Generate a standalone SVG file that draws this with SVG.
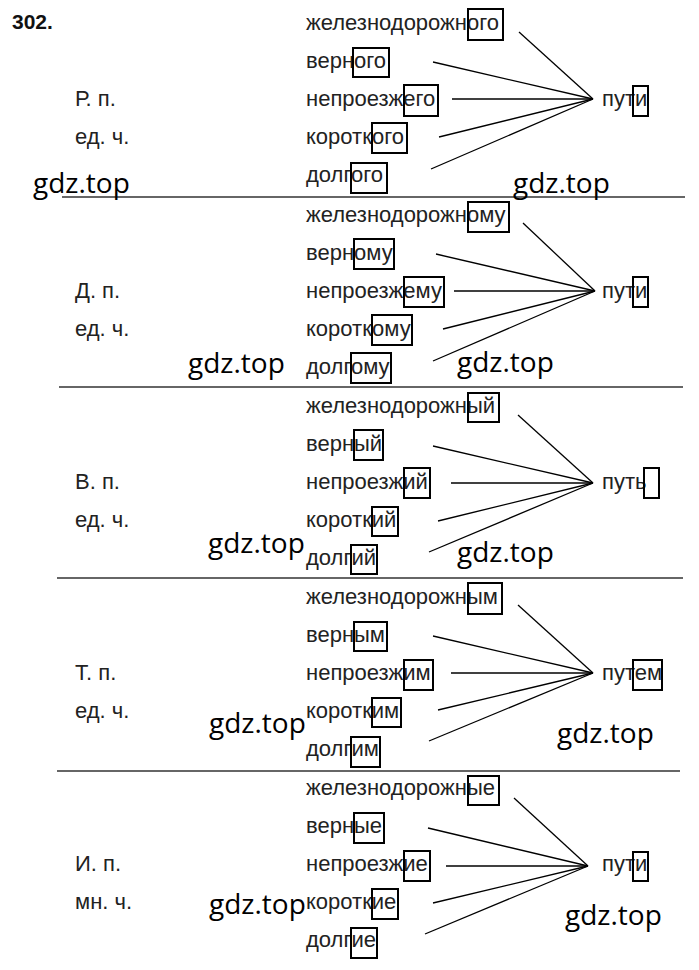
<svg xmlns="http://www.w3.org/2000/svg" width="699" height="970" viewBox="0 0 699 970">
<style>
  .t { font-family: "Liberation Sans", Arial, sans-serif; font-size: 22px; fill: #222; }
  .num { font-family: "Liberation Sans", Arial, sans-serif; font-size: 21px; font-weight: bold; fill: #111; }
  .wm { font-family: "Open Sans", "DejaVu Sans", sans-serif; font-size: 28px; font-weight: 500; fill: #000; }
  .box { fill: none; stroke: #000; stroke-width: 2; }
  .sep { stroke: #333; stroke-width: 1.5; }
  .con { stroke: #000; stroke-width: 1.3; fill: none; }
</style>
<rect width="699" height="970" fill="#fff"/>
<text class="num" x="12" y="29">302.</text>

<g id="separators">
  <line class="sep" x1="62" y1="197" x2="685" y2="197"/>
  <line class="sep" x1="59" y1="387" x2="683" y2="387"/>
  <line class="sep" x1="57" y1="578" x2="683" y2="578"/>
  <line class="sep" x1="57" y1="771" x2="680" y2="771"/>
</g>

<!-- Section 1 -->
<g id="s1-labels"><text class="t" x="75" y="106">Р. п.</text><text class="t" x="75" y="144">ед. ч.</text></g>
<g id="s1-w1"><text class="t" x="306" y="30">железнодорожного</text><rect class="box" x="468" y="9" width="35" height="31"/></g>
<g id="s1-w2"><text class="t" x="306" y="68">верного</text><rect class="box" x="353" y="48" width="36" height="29"/></g>
<g id="s1-w3"><text class="t" x="306" y="106">непроезжего</text><rect class="box" x="404" y="85" width="34" height="31"/></g>
<g id="s1-w4"><text class="t" x="306" y="144">короткого</text><rect class="box" x="372" y="123" width="35" height="30"/></g>
<g id="s1-w5"><text class="t" x="306" y="182">долгого</text><rect class="box" x="351" y="163" width="36" height="30"/></g>
<g id="s1-hub"><text class="t" x="602" y="106">пути</text><rect class="box" x="633" y="86" width="15" height="30"/></g>

<!-- Section 2 -->
<g id="s2-labels"><text class="t" x="75" y="298">Д. п.</text><text class="t" x="75" y="336">ед. ч.</text></g>
<g id="s2-w1"><text class="t" x="306" y="222">железнодорожному</text><rect class="box" x="468" y="202" width="41" height="30"/></g>
<g id="s2-w2"><text class="t" x="306" y="260">верному</text><rect class="box" x="354" y="239" width="40" height="30"/></g>
<g id="s2-w3"><text class="t" x="306" y="298">непроезжему</text><rect class="box" x="404" y="277" width="40" height="30"/></g>
<g id="s2-w4"><text class="t" x="306" y="336">короткому</text><rect class="box" x="372" y="315" width="40" height="30"/></g>
<g id="s2-w5"><text class="t" x="306" y="374">долгому</text><rect class="box" x="351" y="353" width="40" height="30"/></g>
<g id="s2-hub"><text class="t" x="602" y="298">пути</text><rect class="box" x="633" y="277" width="15" height="30"/></g>

<!-- Section 3 -->
<g id="s3-labels"><text class="t" x="75" y="489">В. п.</text><text class="t" x="75" y="527">ед. ч.</text></g>
<g id="s3-w1"><text class="t" x="306" y="413">железнодорожный</text><rect class="box" x="468" y="393" width="31" height="29"/></g>
<g id="s3-w2"><text class="t" x="306" y="451">верный</text><rect class="box" x="354" y="430" width="29" height="30"/></g>
<g id="s3-w3"><text class="t" x="306" y="489">непроезжий</text><rect class="box" x="404" y="468" width="26" height="30"/></g>
<g id="s3-w4"><text class="t" x="306" y="527">короткий</text><rect class="box" x="372" y="507" width="26" height="29"/></g>
<g id="s3-w5"><text class="t" x="306" y="565">долгий</text><rect class="box" x="351" y="545" width="26" height="29"/></g>
<g id="s3-hub"><text class="t" x="602" y="489">путь</text><rect class="box" x="644" y="468" width="15" height="30"/></g>

<!-- Section 4 -->
<g id="s4-labels"><text class="t" x="75" y="680">Т. п.</text><text class="t" x="75" y="718">ед. ч.</text></g>
<g id="s4-w1"><text class="t" x="306" y="604">железнодорожным</text><rect class="box" x="468" y="583" width="34" height="31"/></g>
<g id="s4-w2"><text class="t" x="306" y="642">верным</text><rect class="box" x="354" y="622" width="33" height="29"/></g>
<g id="s4-w3"><text class="t" x="306" y="680">непроезжим</text><rect class="box" x="404" y="660" width="29" height="30"/></g>
<g id="s4-w4"><text class="t" x="306" y="718">коротким</text><rect class="box" x="372" y="698" width="29" height="29"/></g>
<g id="s4-w5"><text class="t" x="306" y="756">долгим</text><rect class="box" x="351" y="737" width="29" height="30"/></g>
<g id="s4-hub"><text class="t" x="602" y="680">путем</text><rect class="box" x="633" y="660" width="29" height="30"/></g>

<!-- Section 5 -->
<g id="s5-labels"><text class="t" x="75" y="871">И. п.</text><text class="t" x="75" y="909">мн. ч.</text></g>
<g id="s5-w1"><text class="t" x="306" y="795">железнодорожные</text><rect class="box" x="468" y="776" width="31" height="29"/></g>
<g id="s5-w2"><text class="t" x="306" y="833">верные</text><rect class="box" x="354" y="813" width="30" height="30"/></g>
<g id="s5-w3"><text class="t" x="306" y="871">непроезжие</text><rect class="box" x="404" y="851" width="26" height="30"/></g>
<g id="s5-w4"><text class="t" x="306" y="909">короткие</text><rect class="box" x="372" y="889" width="26" height="30"/></g>
<g id="s5-w5"><text class="t" x="306" y="947">долгие</text><rect class="box" x="351" y="928" width="26" height="30"/></g>
<g id="s5-hub"><text class="t" x="602" y="871">пути</text><rect class="box" x="633" y="852" width="15" height="29"/></g>

<g id="connectors">
  <line class="con" x1="519" y1="32" x2="593" y2="99"/>
  <line class="con" x1="433" y1="62" x2="593" y2="99"/>
  <line class="con" x1="452" y1="99" x2="593" y2="99"/>
  <line class="con" x1="439" y1="137" x2="593" y2="99"/>
  <line class="con" x1="431" y1="169" x2="593" y2="99"/>

  <line class="con" x1="523" y1="223" x2="595" y2="291"/>
  <line class="con" x1="436" y1="254" x2="595" y2="291"/>
  <line class="con" x1="454" y1="291" x2="595" y2="291"/>
  <line class="con" x1="443" y1="329" x2="595" y2="291"/>
  <line class="con" x1="433" y1="361" x2="595" y2="291"/>

  <line class="con" x1="518" y1="415" x2="593" y2="483"/>
  <line class="con" x1="433" y1="446" x2="593" y2="483"/>
  <line class="con" x1="451" y1="483" x2="593" y2="483"/>
  <line class="con" x1="438" y1="521" x2="593" y2="483"/>
  <line class="con" x1="429" y1="552" x2="593" y2="483"/>

  <line class="con" x1="518" y1="605" x2="593" y2="673"/>
  <line class="con" x1="433" y1="636" x2="593" y2="673"/>
  <line class="con" x1="451" y1="673" x2="593" y2="673"/>
  <line class="con" x1="438" y1="710" x2="593" y2="673"/>
  <line class="con" x1="429" y1="741" x2="593" y2="673"/>

  <line class="con" x1="514" y1="798" x2="588" y2="866"/>
  <line class="con" x1="428" y1="828" x2="588" y2="866"/>
  <line class="con" x1="446" y1="866" x2="588" y2="866"/>
  <line class="con" x1="433" y1="903" x2="588" y2="866"/>
  <line class="con" x1="425" y1="934" x2="588" y2="866"/>
</g>

<g id="watermarks">
  <text class="wm" x="33" y="193">gdz.top</text>
  <text class="wm" x="513" y="193">gdz.top</text>
  <text class="wm" x="188" y="373">gdz.top</text>
  <text class="wm" x="457" y="372">gdz.top</text>
  <text class="wm" x="208" y="553">gdz.top</text>
  <text class="wm" x="457" y="562">gdz.top</text>
  <text class="wm" x="209" y="733">gdz.top</text>
  <text class="wm" x="557" y="743">gdz.top</text>
  <text class="wm" x="209" y="914">gdz.top</text>
  <text class="wm" x="565" y="925">gdz.top</text>
</g>
</svg>
